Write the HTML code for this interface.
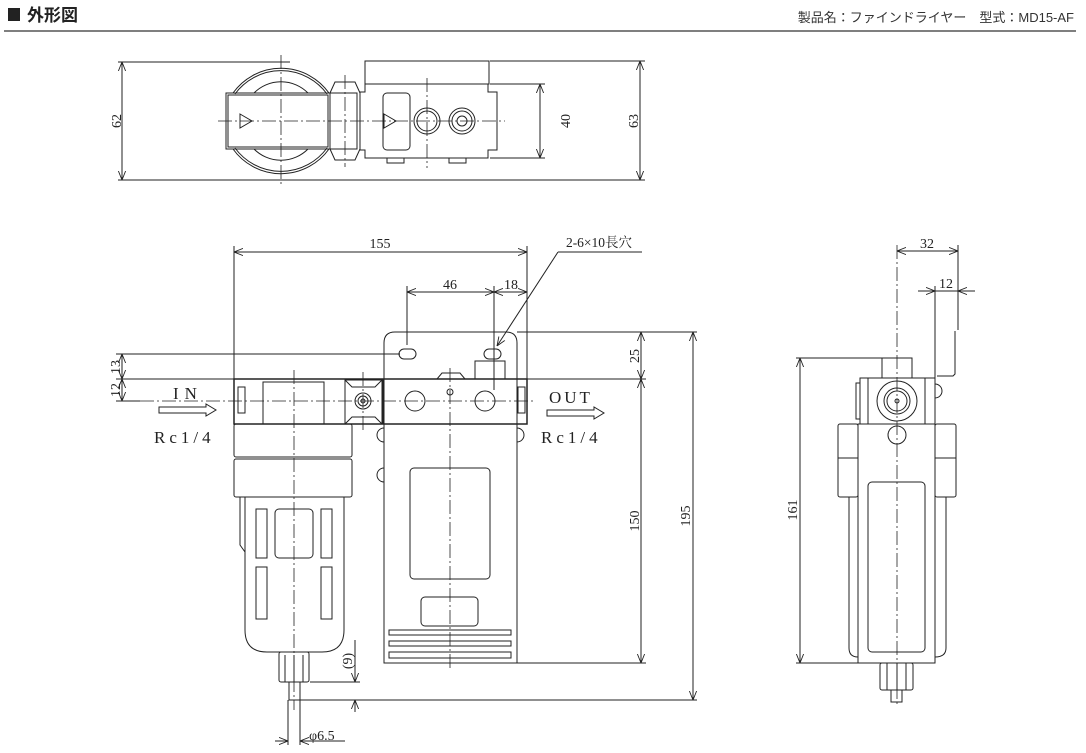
<!DOCTYPE html>
<html><head><meta charset="utf-8"><style>
html,body{margin:0;padding:0;background:#fff;}
svg{display:block;}
text{font-family:"Liberation Serif","Noto Serif CJK SC",serif;fill:#222;}
</style></head><body>
<svg width="1086" height="753" viewBox="0 0 1086 753" xmlns="http://www.w3.org/2000/svg">
<defs>
<marker id="a" viewBox="0 0 10 10" refX="10" refY="5" markerWidth="9" markerHeight="9" orient="auto-start-reverse" markerUnits="userSpaceOnUse"><path d="M0,1 L10,5 L0,9" fill="none" stroke="#222" stroke-width="1"/></marker>
</defs>
<!-- header -->
<rect x="8" y="8" width="12" height="13" fill="#222"/>
<text x="27" y="21" font-size="17" font-weight="bold" style="font-family:'Liberation Sans','Noto Sans CJK JP',sans-serif">外形図</text>
<text x="1074" y="22" font-size="13" text-anchor="end" style="font-family:'Liberation Sans','Noto Sans CJK JP',sans-serif;fill:#333">製品名：ファインドライヤー　型式：MD15-AF</text>
<line x1="4" y1="31" x2="1076" y2="31" stroke="#333" stroke-width="1.3"/>

<g fill="none" stroke="#222" stroke-width="1">
<!-- ===== TOP VIEW ===== -->
<line x1="118" y1="62" x2="290" y2="62"/>
<line x1="118" y1="180" x2="645" y2="180"/>
<line x1="122" y1="62" x2="122" y2="180" marker-start="url(#a)" marker-end="url(#a)"/>
<path d="M233,93 A59,59 0 0 1 329,93 M233,149 A59,59 0 0 0 329,149"/>
<path d="M235,94 A57,57 0 0 1 327,94 M235,148 A57,57 0 0 0 327,148"/>
<path d="M254,93 A38,38 0 0 1 308,93 M254,149 A38,38 0 0 0 308,149"/>
<rect x="226" y="93" width="104" height="56"/>
<rect x="228" y="95" width="100" height="52"/>
<rect x="330" y="93" width="27" height="56"/>
<path d="M330,93 L335,82 L355,82 L360,93 M330,149 L335,160 L355,160 L360,149"/>
<path d="M240,114 L252,121 L240,128 Z M384,114 L396,121 L384,128 Z"/>
<rect x="365" y="61" width="124" height="23"/>
<path d="M365,84 V92 H360 V150 H365 V158 H488 V150 H497 V92 H488 V84 Z"/>
<rect x="383" y="93" width="27" height="57" rx="4"/>
<circle cx="427" cy="121" r="13"/><circle cx="427" cy="121" r="10"/>
<circle cx="462" cy="121" r="13"/><circle cx="462" cy="121" r="10"/><circle cx="462" cy="121" r="5"/>
<path d="M387,158 V163 H404 V158 M449,158 V163 H466 V158"/>
<line x1="490" y1="61" x2="645" y2="61"/>
<line x1="490" y1="84" x2="545" y2="84"/>
<line x1="490" y1="158" x2="545" y2="158"/>
<line x1="540" y1="84" x2="540" y2="158" marker-start="url(#a)" marker-end="url(#a)"/>
<line x1="640" y1="61" x2="640" y2="180" marker-start="url(#a)" marker-end="url(#a)"/>
<g stroke-dasharray="14,3,2,3" stroke-width="0.8">
<line x1="218" y1="121" x2="505" y2="121"/>
<line x1="281" y1="55" x2="281" y2="187"/>
<line x1="345" y1="75" x2="345" y2="167"/>
<line x1="427" y1="78" x2="427" y2="168"/>
</g>

<!-- ===== FRONT VIEW ===== -->
<line x1="234" y1="246" x2="234" y2="379"/>
<line x1="527" y1="246" x2="527" y2="379"/>
<line x1="234" y1="252" x2="527" y2="252" marker-start="url(#a)" marker-end="url(#a)"/>
<line x1="407" y1="286" x2="407" y2="345"/>
<line x1="494" y1="286" x2="494" y2="390"/>
<line x1="407" y1="292" x2="494" y2="292" marker-start="url(#a)" marker-end="url(#a)"/>
<line x1="494" y1="292" x2="527" y2="292" marker-start="url(#a)" marker-end="url(#a)"/>
<line x1="558" y1="252" x2="642" y2="252"/>
<line x1="558" y1="252" x2="497" y2="346" marker-end="url(#a)"/>
<!-- bracket -->
<path d="M384,663 V343 Q384,332 395,332 H506 Q517,332 517,343 V663 Z"/>
<rect x="399" y="349" width="17" height="10" rx="5"/>
<rect x="484" y="349" width="17" height="10" rx="5"/>
<rect x="475" y="361" width="30" height="18"/>
<path d="M437,379 L442,373 H460 L465,379"/>
<rect x="410" y="468" width="80" height="111" rx="4"/>
<rect x="421" y="597" width="57" height="29" rx="4"/>
<rect x="389" y="630" width="122" height="5"/>
<rect x="389" y="641" width="122" height="5"/>
<rect x="389" y="652" width="122" height="6"/>
<path d="M384,428 A6,6 0 0 0 384,442 M517,428 A6,6 0 0 1 517,442 M384,468 A6,6 0 0 0 384,482"/>
<!-- body band -->
<rect x="234" y="379" width="293" height="45" stroke-width="1.5"/>
<rect x="238" y="387" width="7" height="26"/>
<rect x="518" y="387" width="7" height="26"/>
<rect x="263" y="382" width="61" height="42"/>
<rect x="345" y="380" width="37" height="44"/>
<path d="M345,380 L352,387 H375 L382,380 M345,424 L352,417 H375 L382,424"/>
<circle cx="363" cy="401" r="8"/><circle cx="363" cy="401" r="5"/><circle cx="363" cy="401" r="2"/>
<line x1="383" y1="379" x2="383" y2="424"/>
<circle cx="415" cy="401" r="10"/>
<circle cx="485" cy="401" r="10"/>
<circle cx="450" cy="392" r="3"/>
<!-- filter bowl -->
<rect x="234" y="424" width="118" height="33" rx="2"/>
<rect x="234" y="459" width="118" height="38" rx="2"/>
<path d="M245,497 V630 Q245,652 267,652 H322 Q344,652 344,630 V497"/>
<path d="M240,497 V545 L245,552"/>
<rect x="256" y="509" width="11" height="49"/>
<rect x="275" y="509" width="38" height="49" rx="4"/>
<rect x="321" y="509" width="11" height="49"/>
<rect x="256" y="567" width="11" height="52"/>
<rect x="321" y="567" width="11" height="52"/>
<rect x="279" y="652" width="30" height="30" rx="2"/>
<path d="M285,655 V682 M294,655 V682 M303,655 V682"/>
<rect x="289" y="682" width="11" height="18"/>
<line x1="288" y1="700" x2="288" y2="745"/>
<line x1="300" y1="700" x2="300" y2="745"/>
<g stroke-dasharray="14,3,2,3" stroke-width="0.8">
<line x1="140" y1="401" x2="535" y2="401"/>
<line x1="294" y1="370" x2="294" y2="710"/>
<line x1="450" y1="368" x2="450" y2="668"/>
<line x1="363" y1="372" x2="363" y2="430"/>
</g>
<!-- IN / OUT -->
<path d="M159,407 H206 V404 L216,410 L206,416 V413 H159 Z"/>
<path d="M547,410 H594 V407 L604,413 L594,419 V416 H547 Z"/>
<!-- left dims -->
<line x1="116" y1="354" x2="400" y2="354"/>
<line x1="116" y1="379" x2="234" y2="379"/>
<line x1="116" y1="401" x2="140" y2="401"/>
<line x1="122" y1="354" x2="122" y2="379" marker-start="url(#a)" marker-end="url(#a)"/>
<line x1="122" y1="379" x2="122" y2="401" marker-start="url(#a)" marker-end="url(#a)"/>
<!-- right dims -->
<line x1="517" y1="332" x2="697" y2="332"/>
<line x1="527" y1="379" x2="646" y2="379"/>
<line x1="517" y1="663" x2="646" y2="663"/>
<line x1="300" y1="700" x2="697" y2="700"/>
<line x1="641" y1="332" x2="641" y2="379" marker-start="url(#a)" marker-end="url(#a)"/>
<line x1="641" y1="379" x2="641" y2="663" marker-start="url(#a)" marker-end="url(#a)"/>
<line x1="693" y1="332" x2="693" y2="700" marker-start="url(#a)" marker-end="url(#a)"/>
<!-- (9) -->
<line x1="310" y1="682" x2="360" y2="682"/>
<line x1="355" y1="640" x2="355" y2="682" marker-end="url(#a)"/>
<line x1="355" y1="712" x2="355" y2="700" marker-end="url(#a)"/>
<line x1="275" y1="741" x2="288" y2="741" marker-end="url(#a)"/>
<line x1="313" y1="741" x2="300" y2="741" marker-end="url(#a)"/>
<line x1="300" y1="741" x2="345" y2="741"/>

<!-- ===== SIDE VIEW ===== -->
<line x1="897" y1="245" x2="897" y2="705" stroke-dasharray="14,3,2,3" stroke-width="0.8"/>
<line x1="958" y1="245" x2="958" y2="330"/>
<line x1="897" y1="251" x2="958" y2="251" marker-start="url(#a)" marker-end="url(#a)"/>
<line x1="935" y1="286" x2="935" y2="378"/>
<line x1="918" y1="291" x2="935" y2="291" marker-end="url(#a)"/>
<line x1="975" y1="291" x2="958" y2="291" marker-end="url(#a)"/>
<line x1="935" y1="291" x2="958" y2="291"/>
<path d="M955,331 V374 L953,376 H937"/>
<rect x="882" y="358" width="30" height="20"/>
<rect x="860" y="378" width="75" height="46"/>
<path d="M868,378 V424 M925,378 V424"/>
<rect x="856" y="383" width="4" height="36"/>
<path d="M935,384 A6,6 0 0 1 935,398"/>
<circle cx="897" cy="401" r="20"/><circle cx="897" cy="401" r="13"/><circle cx="897" cy="401" r="10"/><circle cx="897" cy="401" r="2"/>
<circle cx="897" cy="435" r="9"/>
<rect x="838" y="424" width="20" height="73" rx="2"/>
<rect x="935" y="424" width="21" height="73" rx="2"/>
<line x1="838" y1="458" x2="858" y2="458"/><line x1="935" y1="458" x2="956" y2="458"/>
<path d="M849,497 V648 Q849,657 858,657 M946,497 V648 Q946,657 935,657"/>
<rect x="858" y="424" width="77" height="239"/>
<rect x="868" y="482" width="57" height="170" rx="4"/>
<rect x="880" y="663" width="33" height="27" rx="2"/>
<path d="M887,663 V690 M897,663 V690 M906,663 V690"/>
<rect x="891" y="690" width="11" height="12"/>
<line x1="796" y1="358" x2="882" y2="358"/>
<line x1="796" y1="663" x2="858" y2="663"/>
<line x1="800" y1="358" x2="800" y2="663" marker-start="url(#a)" marker-end="url(#a)"/>
</g>

<!-- labels -->
<g font-size="14">
<text transform="translate(121,121) rotate(-90)" text-anchor="middle">62</text>
<text transform="translate(570,121) rotate(-90)" text-anchor="middle">40</text>
<text transform="translate(638,121) rotate(-90)" text-anchor="middle">63</text>
<text x="380" y="248" text-anchor="middle">155</text>
<text x="450" y="289" text-anchor="middle">46</text>
<text x="511" y="289" text-anchor="middle">18</text>
<text x="599" y="247" text-anchor="middle" font-size="13.5">2-6×10長穴</text>
<text transform="translate(120,367) rotate(-90)" text-anchor="middle">13</text>
<text transform="translate(120,390) rotate(-90)" text-anchor="middle">12</text>
<text transform="translate(639,356) rotate(-90)" text-anchor="middle">25</text>
<text transform="translate(639,521) rotate(-90)" text-anchor="middle">150</text>
<text transform="translate(690,516) rotate(-90)" text-anchor="middle">195</text>
<text transform="translate(352,661) rotate(-90)" text-anchor="middle">(9)</text>
<text x="309" y="740">φ6.5</text>
<text x="927" y="248" text-anchor="middle">32</text>
<text x="946" y="288" text-anchor="middle">12</text>
<text transform="translate(797,510) rotate(-90)" text-anchor="middle">161</text>
</g>
<g font-size="17">
<text x="173" y="399" letter-spacing="6">IN</text>
<text x="154" y="443" letter-spacing="4">Rc1/4</text>
<text x="549" y="403" letter-spacing="3">OUT</text>
<text x="541" y="443" letter-spacing="4">Rc1/4</text>
</g>
</svg>
</body></html>
